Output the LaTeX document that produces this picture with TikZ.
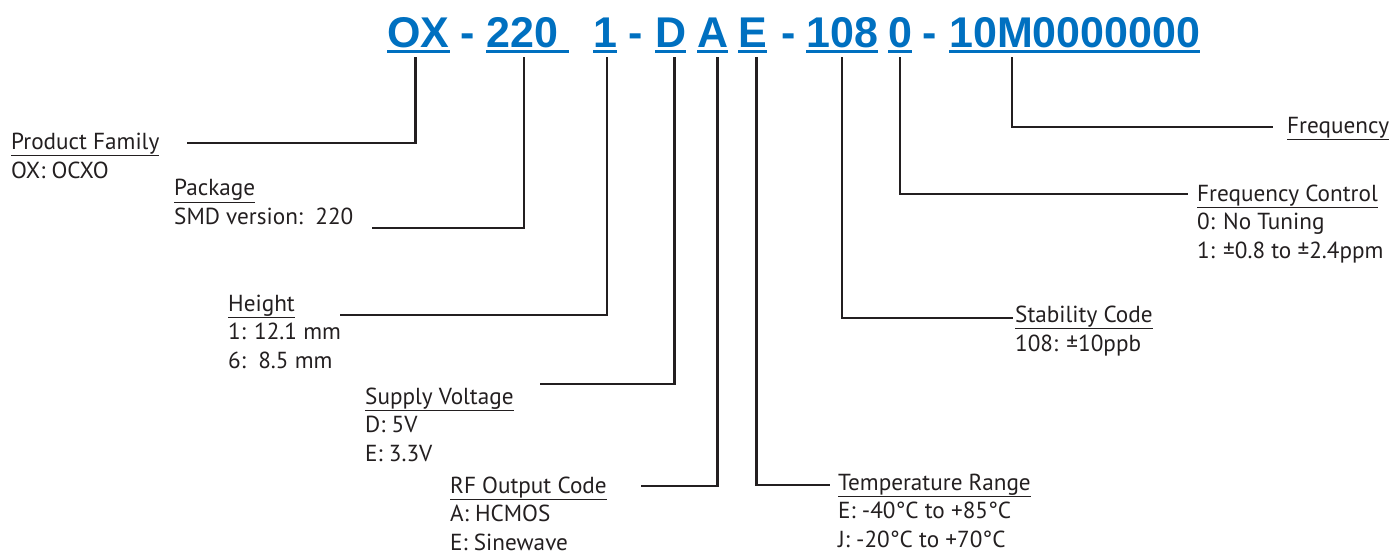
\documentclass[tikz,border=0pt]{standalone}
\usepackage{fontspec}
\setmainfont{PT Sans}
\newfontfamily\codefont{Liberation Sans}
\definecolor{codeblue}{RGB}{0,112,192}
\definecolor{inkgray}{RGB}{35,31,32}

\tikzset{
  code/.style={font=\codefont\bfseries\fontsize{43}{43}\selectfont, text=codeblue, inner sep=0pt, anchor=base west},
  uline/.style={codeblue, line width=3pt},
  lead/.style={inkgray, line width=2.5pt},
  % placed at the baseline of the last line
  info/.style={font=\fontsize{23.2}{28.5}\selectfont, text=inkgray, align=left, inner sep=0pt, anchor=base west},
}

\begin{document}
\begin{tikzpicture}[x=1pt,y=-1pt]
        \useasboundingbox (0,0) rectangle (1393,554);

        % part number
        \node[code] (ox) at (387,47) {OX};
        \node[code] (dashA) at (460,47) {-};
        \node[code] (pkg) at (486,47) {220\kern11pt};
        \node[code] (hgt) at (593,47) {1};
        \node[code] (dashB) at (628,47) {-};
        \node[code] (volt) at (655,47) {D};
        \node[code] (out) at (697,47) {A};
        \node[code] (temp) at (738,47) {E};
        \node[code] (dashC) at (781,47) {-};
        \node[code] (stab) at (806,47) {108};
        \node[code] (ctrl) at (888,47) {0};
        \node[code] (dashD) at (922,47) {-};
        \node[code] (freq) at (949,47) {10M0000000};

        \foreach \n in {ox,pkg,hgt,volt,out,temp,stab,ctrl,freq}
            \draw[uline]([yshift=-4.5pt]\n.base west)--([yshift=-4.5pt]\n.base east);

        % descriptions
        \node[info] (famtxt) at (11,178) {\underline{Product Family}\\OX: OCXO};
        \node[info] (pkgtxt) at (174,224) {\underline{Package}\\SMD version:\ \ 220};
        \node[info] (hgttxt) at (228,368) {\underline{Height}\\1: 12.1 mm\\6:\ \ 8.5 mm};
        \node[info] (volttxt) at (365,461) {\underline{Supply Voltage}\\D: 5V\\E: 3.3V};
        \node[info] (outtxt) at (450,550) {\underline{RF Output Code}\\A: HCMOS\\E: Sinewave};
        \node[info] (temptxt) at (838,547) {\underline{Temperature Range}\\E: -40°C to +85°C\\J: -20°C to +70°C};
        \node[info] (stabtxt) at (1015,351) {\underline{Stability Code}\\108: ±10ppb};
        \node[info] (ctrltxt) at (1197,258) {\underline{Frequency Control}\\0: No Tuning\\1: ±0.8 to ±2.4ppm};
        \node[info] (freqtxt) at (1287,133) {\underline{Frequency}};

        % lead ends
        \coordinate (famend) at (187,143);
        \coordinate (pkgend) at (372,228);
        \coordinate (hgtend) at (340,315);
        \coordinate (voltend) at (540,384);
        \coordinate (outend) at (641,486);
        \coordinate (tempend) at (830,485);
        \coordinate (stabend) at (1013,318);
        \coordinate (ctrlend) at (1188,194);
        \coordinate (freqend) at (1273,127);

        \draw[lead]([xshift=-3pt,yshift=-10pt]ox.base)|-(famend);
        \draw[lead]([xshift=38pt,yshift=-10pt]pkg.base west)|-(pkgend);
        \draw[lead]([xshift=2pt,yshift=-10pt]hgt.base)|-(hgtend);
        \draw[lead]([xshift=4pt,yshift=-10pt]volt.base)|-(voltend);
        \draw[lead]([xshift=5pt,yshift=-10pt]out.base)|-(outend);
        \draw[lead]([xshift=4pt,yshift=-10pt]temp.base)|-(tempend);
        \draw[lead]([yshift=-10pt]stab.base)|-(stabend);
        \draw[lead]([yshift=-10pt]ctrl.base)|-(ctrlend);
        \draw[lead]([xshift=63pt,yshift=-10pt]freq.base west)|-(freqend);

    \end{tikzpicture}
\end{document}
